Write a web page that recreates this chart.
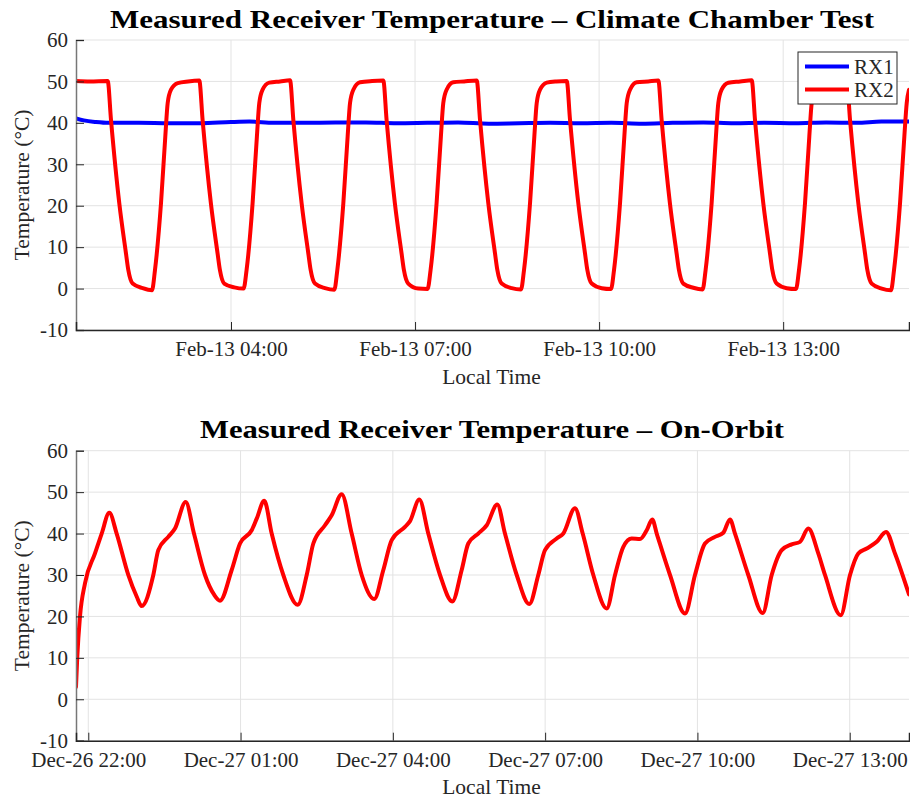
<!DOCTYPE html>
<html>
<head>
<meta charset="utf-8">
<script src="https://cdn.jsdelivr.net/npm/d3@7"></script>
<style>
  body { margin: 0; background: #fff; }
  svg text { font-family: 'Liberation Serif', 'Times New Roman', serif !important; fill: #262626; }
</style>
</head>
<body>
<div id="chart"></div>
<script>
// hours after midnight Feb-13, temperature in degC
const chamberRx1 = [
  [1.4735, 41.1], [1.6, 40.6], [1.8, 40.2], [2.0, 40.0], [2.5, 40.0], [3.0, 39.9],
  [3.5, 39.9], [4.0, 40.2], [4.3, 40.3], [4.7, 40.0], [5.2, 40.0], [5.7, 40.1],
  [6.2, 40.1], [6.7, 39.9], [7.2, 40.0], [7.7, 40.1], [8.2, 39.8], [8.7, 39.9],
  [9.2, 40.0], [9.7, 39.9], [10.2, 40.0], [10.7, 39.8], [11.2, 40.0], [11.7, 40.1],
  [12.2, 39.9], [12.7, 40.0], [13.2, 39.9], [13.7, 40.1], [14.2, 40.0], [14.6, 40.3],
  [15.051, 40.3]
]

const chamberRx2 = [
  [1.4735, 50.1], [1.7, 50.0],
  [1.990, 50.1], [2.044, 40.7], [2.179, 20.6], [2.288, 8.5], [2.326, 4.5], [2.397, 1.2],
  [2.560, 0.1], [2.712, -0.4], [2.761, 4.5], [2.859, 20.6], [2.929, 36.7], [2.968, 44.8],
  [3.022, 48.0], [3.131, 49.6], [3.30, 50.0],
  [3.483, 50.2], [3.537, 40.7], [3.672, 20.6], [3.781, 8.5], [3.819, 4.5], [3.890, 1.2],
  [4.053, 0.3], [4.205, 0.0], [4.254, 4.5], [4.352, 20.6], [4.422, 36.7], [4.461, 44.8],
  [4.515, 48.0], [4.624, 49.7], [4.80, 50.0],
  [4.962, 50.3], [5.016, 40.7], [5.151, 20.6], [5.260, 8.5], [5.298, 4.5], [5.369, 1.2],
  [5.532, 0.1], [5.684, -0.3], [5.733, 4.5], [5.831, 20.6], [5.901, 36.7], [5.940, 44.8],
  [5.994, 48.0], [6.103, 49.8], [6.30, 50.1],
  [6.482, 50.2], [6.536, 40.7], [6.671, 20.6], [6.780, 8.5], [6.818, 4.5], [6.889, 1.2],
  [7.052, 0.0], [7.204, -0.1], [7.253, 4.5], [7.351, 20.6], [7.421, 36.7], [7.460, 44.8],
  [7.514, 48.0], [7.623, 49.8], [7.80, 50.0],
  [8.005, 50.2], [8.059, 40.7], [8.194, 20.6], [8.303, 8.5], [8.341, 4.5], [8.412, 1.2],
  [8.575, 0.1], [8.727, -0.2], [8.776, 4.5], [8.874, 20.6], [8.944, 36.7], [8.983, 44.8],
  [9.037, 48.0], [9.146, 49.7], [9.30, 50.0],
  [9.472, 50.1], [9.526, 40.7], [9.661, 20.6], [9.770, 8.5], [9.808, 4.5], [9.879, 1.2],
  [10.042, 0.1], [10.194, -0.1], [10.243, 4.5], [10.341, 20.6], [10.411, 36.7], [10.450, 44.8],
  [10.504, 48.0], [10.613, 49.8], [10.80, 50.0],
  [10.965, 50.2], [11.019, 40.7], [11.154, 20.6], [11.263, 8.5], [11.301, 4.5], [11.372, 1.2],
  [11.535, 0.2], [11.687, -0.2], [11.736, 4.5], [11.834, 20.6], [11.904, 36.7], [11.943, 44.8],
  [11.997, 48.0], [12.106, 49.7], [12.30, 50.0],
  [12.487, 50.3], [12.541, 40.7], [12.676, 20.6], [12.785, 8.5], [12.823, 4.5], [12.894, 1.2],
  [13.057, 0.1], [13.209, -0.1], [13.258, 4.5], [13.356, 20.6], [13.426, 36.7], [13.465, 44.8],
  [13.519, 48.0], [13.628, 49.8], [13.80, 50.0],
  [14.036, 50.2], [14.090, 40.7], [14.225, 20.6], [14.334, 8.5], [14.372, 4.5], [14.443, 1.2],
  [14.606, 0.0], [14.758, -0.4], [14.807, 4.5], [14.905, 20.6], [14.975, 36.7], [15.014, 44.8],
  [15.051, 48.0]
]

// hours after midnight Dec-26, temperature in degC
const orbitRx2 = [
  [21.758, 3.0], [21.783, 10.2], [21.836, 19.9], [21.935, 28.0], [22.132, 35.2], [22.264, 40.0],
  [22.414, 45.0], [22.559, 40.0], [22.788, 30.0], [22.953, 24.8], [23.052, 22.5],
  [23.281, 30.0], [23.379, 36.0], [23.576, 39.2], [23.708, 41.2], [23.919, 47.6],
  [24.082, 40.0], [24.299, 30.0], [24.476, 25.3], [24.595, 23.8],
  [24.825, 31.2], [24.989, 37.6], [25.219, 40.8], [25.318, 43.6], [25.467, 47.9],
  [25.613, 40.0], [25.842, 30.0], [26.125, 22.8],
  [26.303, 30.0], [26.433, 37.6], [26.663, 42.0], [26.795, 44.4], [26.992, 49.5],
  [27.189, 40.0], [27.386, 30.0], [27.634, 24.2],
  [27.812, 31.2], [27.977, 38.4], [28.239, 41.6], [28.338, 43.0], [28.521, 48.2],
  [28.698, 40.0], [28.929, 30.0], [29.171, 23.6],
  [29.356, 31.2], [29.486, 37.6], [29.683, 40.0], [29.849, 42.0], [30.057, 47.0],
  [30.209, 40.0], [30.440, 30.0], [30.688, 23.0],
  [30.865, 30.0], [30.997, 36.0], [31.228, 38.8], [31.358, 40.0], [31.588, 46.1],
  [31.740, 40.0], [31.949, 30.0], [32.213, 21.9],
  [32.377, 30.0], [32.540, 36.8], [32.706, 38.8], [32.869, 38.7], [33.001, 40.8], [33.111, 43.4],
  [33.198, 40.0], [33.460, 30.0], [33.755, 20.7],
  [33.952, 30.0], [34.149, 37.6], [34.346, 39.2], [34.510, 40.2], [34.642, 43.4],
  [34.740, 40.0], [35.002, 30.0], [35.286, 20.8],
  [35.463, 30.0], [35.660, 36.0], [35.857, 37.4], [36.021, 38.0], [36.184, 41.2],
  [36.381, 35.2], [36.513, 30.0], [36.823, 20.3],
  [37.006, 30.0], [37.169, 35.2], [37.335, 36.4], [37.532, 38.0], [37.715, 40.4],
  [37.892, 35.2], [38.168, 25.3]
]

const chamberTickHours = [4, 7, 10, 13]
const orbitTickHours = [22, 25, 28, 31, 34, 37]
const yTicks = [-10, 0, 10, 20, 30, 40, 50, 60]
const legendNames = ['RX1', 'RX2']
const legendColors = ['#0000ff', '#ff0000']

const chamberBase = new Date(2023, 1, 13, 0, 0, 0)
const orbitBase = new Date(2022, 11, 26, 0, 0, 0)
const toDate = (base, h) => new Date(base.getTime() + h * 3600 * 1000)

const width = 910
const height = 802
const left = 76
const right = 909
const serif = "'Liberation Serif', 'Times New Roman', serif"

const svg = d3
  .select('#chart')
  .append('svg')
  .attr('width', width)
  .attr('height', height)

const formatTick = d3.timeFormat('%b-%d %H:%M')

function drawPanel(cfg) {
  const g = svg.append('g')

  const x = d3
    .scaleTime()
    .domain([toDate(cfg.base, cfg.start), toDate(cfg.base, cfg.end)])
    .range([left, right])

  const y = d3
    .scaleLinear()
    .domain([-10, 60])
    .range([cfg.bottom, cfg.top])

  const tickDates = cfg.ticks.map(h => toDate(cfg.base, h))

  // grid
  g.selectAll('.hgrid')
    .data(yTicks)
    .enter()
    .append('line')
    .attr('x1', left)
    .attr('x2', right)
    .attr('y1', d => y(d))
    .attr('y2', d => y(d))
    .attr('stroke', '#e3e3e3')
    .attr('stroke-width', 1)

  g.selectAll('.vgrid')
    .data(tickDates)
    .enter()
    .append('line')
    .attr('x1', d => x(d))
    .attr('x2', d => x(d))
    .attr('y1', cfg.top)
    .attr('y2', cfg.bottom)
    .attr('stroke', '#e3e3e3')
    .attr('stroke-width', 1)

  // clip the data lines to the axes box
  svg.append('clipPath')
    .attr('id', cfg.id)
    .append('rect')
    .attr('x', left)
    .attr('y', cfg.top)
    .attr('width', right - left)
    .attr('height', cfg.bottom - cfg.top)

  const line = d3
    .line()
    .x(d => x(toDate(cfg.base, d[0])))
    .y(d => y(d[1]))
    .curve(d3.curveMonotoneX)

  cfg.series.forEach(s => {
    g.append('path')
      .datum(s.data)
      .attr('clip-path', 'url(#' + cfg.id + ')')
      .attr('d', line)
      .attr('fill', 'none')
      .attr('stroke', s.color)
      .attr('stroke-width', 4)
      .attr('stroke-linejoin', 'round')
      .attr('stroke-linecap', 'round')
  })

  // axes
  const yAxis = d3
    .axisLeft(y)
    .tickValues(yTicks)
    .tickSize(-8)
    .tickPadding(8)
    .tickFormat(d => String(d))

  const yG = g.append('g')
    .attr('transform', 'translate(' + left + ',0)')
    .call(yAxis)
    .attr('font-family', serif)
    .attr('font-size', 21)
  yG.select('.domain').attr('stroke', '#777').attr('stroke-width', 1.5)
  yG.selectAll('.tick line').attr('stroke', '#262626')
  yG.selectAll('text')
    .style('font-size', '21px')
    .attr('fill', '#262626')

  const xAxis = d3
    .axisBottom(x)
    .tickValues(tickDates)
    .tickSize(-8)
    .tickPadding(11)
    .tickFormat(formatTick)

  const xG = g.append('g')
    .attr('transform', 'translate(0,' + cfg.bottom + ')')
    .call(xAxis)
    .attr('font-family', serif)
    .attr('font-size', 21)
  xG.select('.domain').attr('stroke', '#262626').attr('stroke-width', 1.5)
  xG.selectAll('.tick line').attr('stroke', '#262626')
  xG.selectAll('text')
    .style('font-size', '21px')
    .attr('fill', '#262626')

  // labels
  g.append('text')
    .attr('x', (left + right) / 2 - 1)
    .attr('y', cfg.bottom + 53.5)
    .attr('text-anchor', 'middle')
    .style('font-size', '21.5px')
    .text('Local Time')

  g.append('text')
    .attr('transform', 'translate(29,' + (cfg.top + cfg.bottom) / 2 + ') rotate(-90)')
    .attr('text-anchor', 'middle')
    .style('font-size', '21.5px')
    .text('Temperature (°C)')

  g.append('text')
    .attr('x', 492)
    .attr('y', cfg.top - 12.5)
    .attr('text-anchor', 'middle')
    .style('font-size', '25px')
    .style('font-weight', 'bold')
    .style('fill', '#000')
    .attr('textLength', cfg.titleWidth)
    .attr('lengthAdjust', 'spacingAndGlyphs')
    .text(cfg.title)

  return g
}

const topPanel = drawPanel({
  id: 'clip-chamber',
  base: chamberBase,
  start: 1.4735,
  end: 15.051,
  top: 40,
  bottom: 330,
  ticks: chamberTickHours,
  title: 'Measured Receiver Temperature – Climate Chamber Test',
  titleWidth: 764,
  series: [
    { data: chamberRx1, color: '#0000ff' },
    { data: chamberRx2, color: '#ff0000' }
  ]
})

drawPanel({
  id: 'clip-orbit',
  base: orbitBase,
  start: 21.758,
  end: 38.168,
  top: 450.7,
  bottom: 740.7,
  ticks: orbitTickHours,
  title: 'Measured Receiver Temperature – On-Orbit',
  titleWidth: 584,
  series: [{ data: orbitRx2, color: '#ff0000' }]
})

// legend for the chamber test
const legend = topPanel.append('g').attr('transform', 'translate(798,52)')

legend.append('rect')
  .attr('width', 99)
  .attr('height', 52)
  .attr('fill', '#fff')
  .attr('stroke', '#262626')
  .attr('stroke-width', 1)

legendNames.forEach((name, i) => {
  legend.append('line')
    .attr('x1', 7)
    .attr('x2', 51)
    .attr('y1', 14.5 + i * 23)
    .attr('y2', 14.5 + i * 23)
    .attr('stroke', legendColors[i])
    .attr('stroke-width', 4)

  legend.append('text')
    .attr('x', 56)
    .attr('y', 21.5 + i * 23)
    .style('font-size', '21px')
    .text(name)
})
</script>
</body>
</html>
